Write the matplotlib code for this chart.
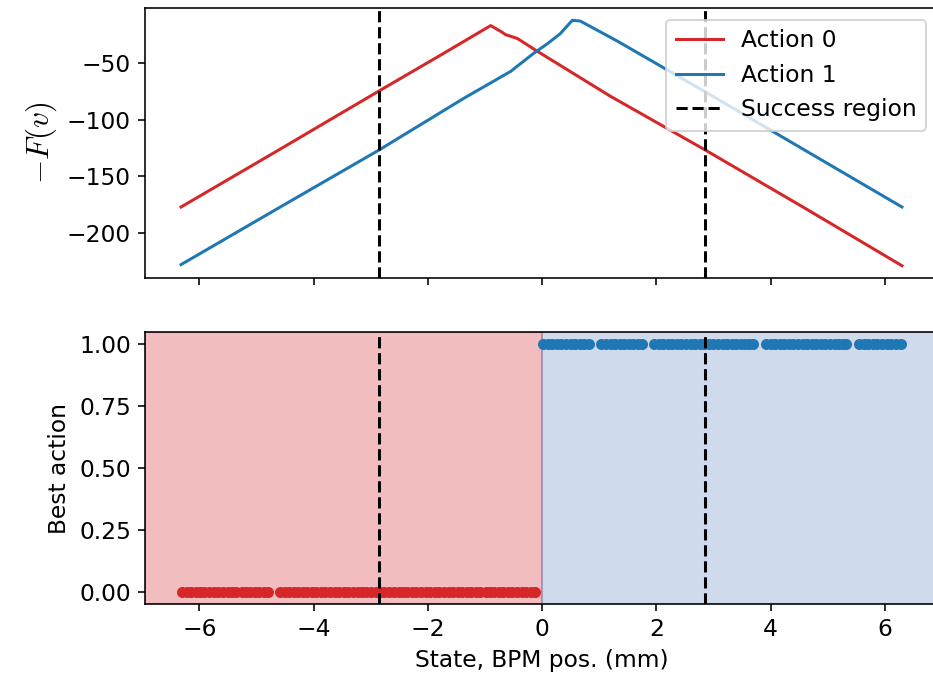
import matplotlib
matplotlib.use("Agg")
import matplotlib.pyplot as plt
import numpy as np

plt.rcParams['mathtext.fontset'] = 'cm'
plt.rcParams['font.size'] = 11.6

# Q-value curves, read at the kinks / ends
x_a0 = [-6.32, -4.60, -2.86, -1.80, -0.90, -0.72, -0.64, -0.43, -0.08, 1.20, 2.86, 4.60, 6.30]
q_a0 = [-177.0, -126.5, -75.0, -44.0, -17.3, -22.5, -25.2, -28.7, -40.0, -79.6, -126.9, -178.0, -228.7]

x_a1 = [-6.32, -4.60, -2.86, -1.37, -0.55, -0.15, 0.10, 0.32, 0.53, 0.67, 1.32, 2.86, 4.60, 6.30]
q_a1 = [-227.7, -177.5, -127.0, -81.3, -57.6, -41.8, -33.0, -24.3, -12.6, -13.3, -31.0, -75.7, -127.0, -177.0]

# sampled states and the action picked there
states_a0 = [-6.30, -6.22, -6.15, -6.06, -5.98, -5.91, -5.83, -5.74, -5.67, -5.58,
             -5.50, -5.43, -5.35, -5.26, -5.19, -5.11, -5.02, -4.95, -4.86, -4.79,
             -4.58, -4.50, -4.43, -4.35, -4.27, -4.18, -4.11, -4.03, -3.95, -3.87,
             -3.80, -3.71, -3.63, -3.55, -3.47, -3.40, -3.31, -3.23, -3.16, -3.08,
             -2.99, -2.91, -2.84, -2.76, -2.68, -2.60, -2.51, -2.44, -2.36, -2.28,
             -2.20, -2.12, -2.04, -1.96, -1.88, -1.80, -1.71, -1.63, -1.56, -1.47,
             -1.40, -1.32, -1.24, -1.15, -1.08, -0.99, -0.92, -0.84, -0.76, -0.68,
             -0.60, -0.52, -0.44, -0.36, -0.28, -0.20, -0.12]
states_a1 = [0.02, 0.10, 0.18, 0.26, 0.34, 0.42, 0.50, 0.58, 0.66, 0.74, 0.82,
             1.04, 1.12, 1.20, 1.28, 1.36, 1.44, 1.52, 1.60, 1.68, 1.75,
             1.96, 2.04, 2.12, 2.20, 2.28, 2.36, 2.44, 2.52, 2.60, 2.68, 2.76,
             2.84, 2.92, 3.00, 3.08, 3.16, 3.24, 3.32, 3.40, 3.48, 3.56, 3.63, 3.70,
             3.92, 4.00, 4.08, 4.16, 4.24, 4.32, 4.40, 4.48, 4.56, 4.64, 4.72,
             4.80, 4.88, 4.96, 5.04, 5.12, 5.20, 5.27, 5.32,
             5.55, 5.63, 5.71, 5.79, 5.87, 5.95, 6.03, 6.11, 6.19, 6.28]

success_bound = 2.85

fig = plt.figure(figsize=(933 / 145, 681 / 145), dpi=145)
ax1 = fig.add_axes([145 / 933, 1 - 278 / 681, 793 / 933, 270 / 681])
ax2 = fig.add_axes([145 / 933, 1 - 604 / 681, 793 / 933, 272 / 681], sharex=ax1)

ax1.plot(x_a0, q_a0, color='tab:red', label='Action 0')
ax1.plot(x_a1, q_a1, color='tab:blue', label='Action 1')
ax1.axvline(-success_bound, color='k', ls='--', label='Success region')
ax1.axvline(success_bound, color='k', ls='--')
ax1.set_ylabel(r'$-F(v)$', fontsize=15.5)
ax1.legend(loc='upper right')
ax1.tick_params(labelbottom=False)

ax2.scatter(states_a0, np.zeros(len(states_a0)), color='tab:red', s=20, zorder=2)
ax2.scatter(states_a1, np.ones(len(states_a1)), color='tab:blue', s=20, zorder=2)
xmin, xmax = ax2.get_xlim()
ax2.axvspan(xmin, 0, color='tab:red', alpha=0.3, zorder=0)
ax2.axvspan(0, xmax, color='#436fbb', alpha=0.25, zorder=0)
ax2.set_xlim(xmin, xmax)
ax2.axvline(-success_bound, color='k', ls='--', zorder=3)
ax2.axvline(success_bound, color='k', ls='--', zorder=3)
ax2.set_yticks([0.0, 0.25, 0.5, 0.75, 1.0])
ax2.set_ylabel('Best action')
ax2.set_xlabel('State, BPM pos. (mm)')

fig.savefig('out.png', dpi=145)
